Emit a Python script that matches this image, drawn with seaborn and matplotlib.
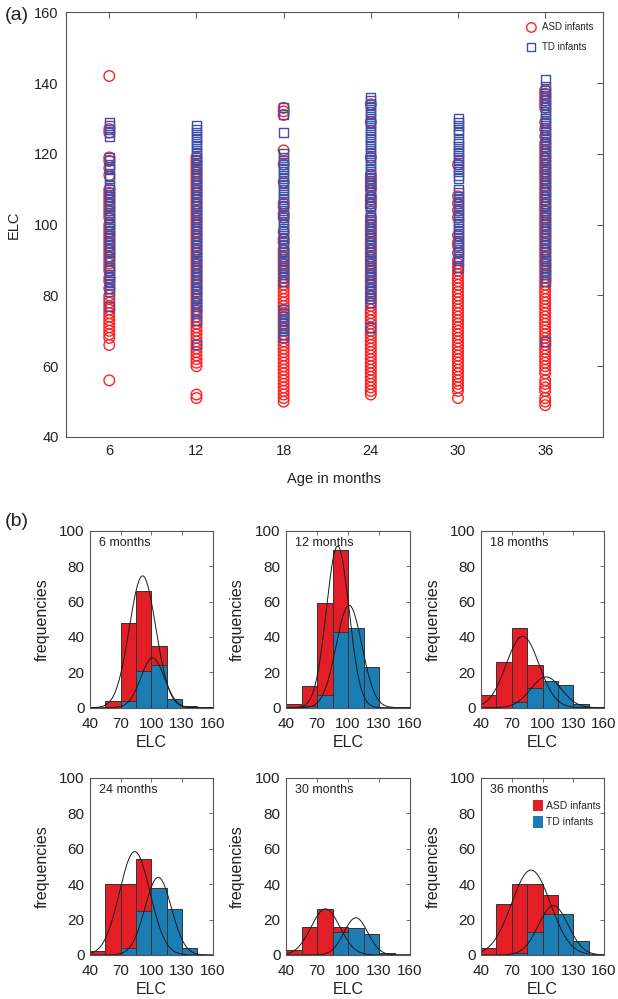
import numpy as np
import pandas as pd
import matplotlib
matplotlib.use('Agg')
import matplotlib.pyplot as plt
from matplotlib.patches import Patch
import seaborn as sns

# ---------------- data: scatter (a) ----------------
ages = [6, 12, 18, 24, 30, 36]

asd_6 = [142, 127, 126, 119, 118, 116, 114, 110, 109, 108, 107, 106, 105, 104, 103, 102,
         100, 99, 98, 97, 96, 95, 94, 93, 92, 91, 90, 89, 88, 87, 85, 84, 82, 80, 79, 78,
         77, 76, 75, 74, 73, 72, 71, 70, 69, 68, 66, 56]
td_6 = [129, 128, 127, 126, 125, 119, 118, 117, 116, 114, 113, 111, 110, 109, 108, 107,
        106, 105, 104, 103, 102, 101, 100, 99, 98, 97, 96, 95, 94, 93, 92, 91, 90, 88, 87,
        86, 85, 84, 83, 82, 81, 77]

asd_12 = [119, 118, 117, 116, 115, 114, 113, 112, 111, 110, 109, 108, 107, 106, 105, 104,
          103, 102, 101, 100, 99, 98, 97, 96, 95, 94, 93, 92, 91, 90, 89, 88, 87, 86, 85,
          84, 83, 82, 81, 80, 79, 78, 77, 76, 75, 74, 73, 72, 71, 70, 69, 68, 67, 66, 65,
          64, 63, 62, 61, 60, 52, 51]
td_12 = [128, 127, 126, 125, 124, 123, 122, 121, 120, 119, 118, 117, 116, 115, 114, 113,
         112, 111, 110, 109, 108, 107, 106, 105, 104, 103, 102, 101, 100, 99, 98, 97, 96,
         95, 94, 93, 92, 91, 90, 89, 88, 87, 86, 85, 84, 83, 82, 81, 80, 79, 78, 77, 76,
         75, 73, 66]

asd_18 = [133, 132, 131, 121, 117, 112, 106, 105, 103, 102, 98, 96, 95, 93, 92, 91, 90,
          89, 88, 87, 86, 85, 84, 83, 82, 81, 80, 79, 78, 77, 76, 75, 74, 73, 72, 71, 70,
          69, 68, 67, 66, 65, 64, 63, 62, 61, 60, 59, 58, 57, 56, 55, 54, 53, 52, 51, 50]
td_18 = [133, 131, 126, 120, 119, 118, 117, 116, 115, 114, 113, 112, 111, 110, 109, 108,
         107, 106, 105, 104, 103, 102, 101, 100, 99, 98, 97, 96, 95, 94, 93, 92, 91, 90,
         89, 88, 87, 86, 85, 84, 76, 75, 74, 73, 72, 71, 70, 69, 68]

asd_24 = [134, 129, 119, 114, 113, 112, 111, 110, 108, 107, 106, 105, 102, 101, 100, 99,
          98, 97, 96, 95, 94, 93, 92, 91, 90, 89, 88, 87, 86, 85, 84, 83, 82, 81, 80, 79,
          78, 77, 76, 75, 74, 73, 72, 71, 70, 69, 68, 67, 66, 65, 64, 63, 62, 61, 60, 59,
          58, 57, 56, 55, 54, 53, 52]
td_24 = [136, 135, 134, 133, 132, 131, 130, 129, 128, 127, 126, 125, 124, 123, 122, 121,
         120, 119, 118, 117, 116, 115, 114, 113, 112, 111, 110, 109, 108, 107, 106, 105,
         104, 103, 102, 101, 100, 99, 98, 97, 96, 95, 94, 93, 92, 91, 90, 89, 88, 87, 86,
         85, 84, 83, 82, 81, 80, 79, 78, 71]

asd_30 = [117, 108, 106, 104, 102, 97, 95, 94, 92, 90, 89, 88, 87, 86, 85, 84, 83, 82, 81,
          80, 79, 78, 77, 76, 75, 74, 73, 72, 71, 70, 69, 68, 67, 66, 65, 64, 63, 62, 61,
          60, 59, 58, 57, 56, 55, 54, 53, 51]
td_30 = [130, 129, 128, 127, 126, 124, 123, 122, 121, 120, 119, 118, 117, 116, 115, 114,
         113, 110, 109, 108, 107, 106, 105, 104, 103, 102, 101, 100, 99, 98, 97, 96, 95,
         94, 93, 92, 91, 90, 88]

asd_36 = [138, 137, 136, 135, 134, 133, 129, 127, 125, 123, 122, 121, 120, 119, 118, 117,
          116, 115, 114, 113, 112, 111, 110, 109, 108, 107, 106, 105, 104, 103, 102, 101,
          100, 99, 98, 97, 96, 95, 94, 93, 92, 91, 90, 89, 88, 87, 86, 85, 84, 83, 82, 81,
          80, 79, 78, 77, 76, 75, 74, 73, 72, 71, 70, 69, 68, 67, 66, 65, 64, 63, 62, 61,
          60, 59, 58, 56, 55, 54, 53, 51, 50, 49]
td_36 = [141, 139, 138, 137, 136, 135, 134, 133, 132, 131, 130, 129, 128, 127, 126, 125,
         124, 123, 122, 121, 120, 119, 118, 117, 116, 115, 114, 113, 112, 111, 110, 109,
         108, 107, 106, 105, 104, 103, 102, 101, 100, 99, 98, 97, 96, 95, 94, 93, 92, 91,
         90, 89, 88, 87, 86, 85, 84, 67]

asd_all = [asd_6, asd_12, asd_18, asd_24, asd_30, asd_36]
td_all = [td_6, td_12, td_18, td_24, td_30, td_36]

# ---------------- data: histograms (b) ----------------
month_labels = ['6 months', '12 months', '18 months', '24 months', '30 months', '36 months']
bin_edges = [40, 55, 70, 85, 100, 115, 130, 145]
asd_counts = [
    [0, 4, 48, 66, 35, 3, 1],
    [2, 12, 59, 89, 30, 3, 0],
    [7, 26, 45, 24, 8, 3, 2],
    [2, 40, 40, 54, 15, 3, 1],
    [3, 16, 26, 16, 3, 0, 0],
    [4, 29, 40, 40, 34, 6, 3],
]
td_counts = [
    [0, 0, 4, 21, 24, 5, 0],
    [0, 1, 7, 43, 45, 23, 0],
    [0, 0, 3, 11, 15, 13, 2],
    [0, 0, 4, 25, 38, 26, 4],
    [0, 0, 0, 13, 15, 12, 1],
    [0, 0, 1, 13, 23, 23, 8],
]
# fitted normal curves: centre, sd, peak height
asd_fit = [(91.5, 13, 74.5), (90.0, 11, 91.3), (80.6, 16, 40.4),
           (83.8, 15, 58.3), (78.2, 14, 26), (88.8, 19, 47.9)]
td_fit = [(101.3, 11.5, 28.1), (101.0, 12.5, 57.9), (103.4, 15, 17.4),
          (106.8, 13, 43.8), (107.6, 11.5, 21), (110.6, 14.5, 27.8)]

# ---------------- style ----------------
sns.set_theme(style='white')
plt.rcParams['font.family'] = ['Liberation Sans', 'DejaVu Sans']
plt.rcParams['axes.edgecolor'] = '#555555'
plt.rcParams['axes.linewidth'] = 0.8

W, H = 618, 999
fig = plt.figure(figsize=(W / 100, H / 100), dpi=100)


def box(l, t, r, b):
    return [l / W, 1 - b / H, (r - l) / W, (b - t) / H]


red_line = '#FF2222'
blue_line = '#3E4FAA'
red_fill = '#E41E26'
blue_fill = '#1B7DB4'

# ---------------- (a) scatter ----------------
rows = []
for age, a_vals, t_vals in zip(ages, asd_all, td_all):
    rows += [(age, v, 'ASD infants') for v in a_vals]
    rows += [(age, v, 'TD infants') for v in t_vals]
df = pd.DataFrame(rows, columns=['age', 'elc', 'group'])

ax = fig.add_axes(box(65.7, 12.3, 603.3, 437))
sns.scatterplot(data=df[df.group == 'ASD infants'], x='age', y='elc', marker='o', s=58,
                facecolors='none', edgecolor=red_line, linewidth=1.0, ax=ax,
                label='ASD infants')
sns.scatterplot(data=df[df.group == 'TD infants'], x='age', y='elc', marker='s', s=42,
                facecolors='none', edgecolor=blue_line, linewidth=1.0, ax=ax,
                label='TD infants')
ax.set_xlim(3, 40)
ax.set_ylim(40, 160)
ax.set_xticks(ages)
ax.set_yticks([40, 60, 80, 100, 120, 140, 160])
ax.tick_params(direction='in', top=True, right=True, length=4, width=0.7,
               color='#555555', labelsize=10.5, labelcolor='#222222', pad=5)
ax.set_xlabel('Age in months', fontsize=10.5, color='#222222')
ax.set_ylabel('ELC', fontsize=10.5, color='#222222')
ax.xaxis.set_label_coords(0.5, -0.082)
ax.yaxis.set_label_coords(-0.083, 0.5)
ax.legend(loc='upper right', frameon=False, fontsize=7, handletextpad=0.1,
          labelspacing=1.0, borderaxespad=0.6, markerscale=0.9)
fig.text(5 / W, 1 - 16 / H, '(a)', fontsize=14, va='center', ha='left', color='#222222')

# ---------------- (b) histograms ----------------
col_pos = [(90, 212.5), (286, 410), (481, 604)]
row_pos = [(530.7, 707.7), (777.7, 955)]
xs = np.linspace(40, 160, 400)
centers = [(bin_edges[k] + bin_edges[k + 1]) / 2 for k in range(len(bin_edges) - 1)]

for i in range(6):
    r, c = divmod(i, 3)
    hx = fig.add_axes(box(col_pos[c][0], row_pos[r][0], col_pos[c][1], row_pos[r][1]))
    hd = pd.DataFrame({'elc': centers, 'asd': asd_counts[i], 'td': td_counts[i]})
    sns.histplot(data=hd, x='elc', weights='asd', bins=bin_edges, color=red_fill, alpha=1,
                 edgecolor='#333333', linewidth=0.7, ax=hx)
    sns.histplot(data=hd, x='elc', weights='td', bins=bin_edges, color=blue_fill, alpha=1,
                 edgecolor='#333333', linewidth=0.7, ax=hx)
    for m, sd, pk in (asd_fit[i], td_fit[i]):
        ys = pk * np.exp(-0.5 * ((xs - m) / sd) ** 2)
        sns.lineplot(x=xs, y=ys, color='#1a1a1a', linewidth=0.7, ax=hx)
    hx.set_xlim(40, 160)
    hx.set_ylim(0, 100)
    hx.set_xticks([40, 70, 100, 130, 160])
    hx.set_yticks([0, 20, 40, 60, 80, 100])
    hx.tick_params(direction='in', top=True, right=True, length=3, width=0.6,
                   color='#555555', labelsize=11, labelcolor='#222222')
    hx.tick_params(axis='x', pad=6.5)
    hx.tick_params(axis='y', pad=4)
    hx.set_xlabel('ELC', fontsize=11.5, color='#222222')
    hx.set_ylabel('frequencies', fontsize=11.5, color='#222222')
    hx.xaxis.set_label_coords(0.5, -0.155)
    hx.yaxis.set_label_coords(-0.33, 0.5)
    hx.text(0.07, 0.965, month_labels[i], transform=hx.transAxes, fontsize=9,
            va='top', ha='left', color='#222222')
    if i == 5:
        handles = [Patch(facecolor=red_fill, edgecolor='none', label='ASD infants'),
                   Patch(facecolor=blue_fill, edgecolor='none', label='TD infants')]
        hx.legend(handles=handles, loc='upper right', bbox_to_anchor=(1.01, 0.9),
                  frameon=False, fontsize=7.5, handlelength=1.0, handleheight=1.3,
                  handletextpad=0.3, labelspacing=0.5, borderaxespad=0)

fig.text(5 / W, 1 - 521 / H, '(b)', fontsize=14, va='center', ha='left', color='#222222')

fig.savefig('out.png', dpi=100)
